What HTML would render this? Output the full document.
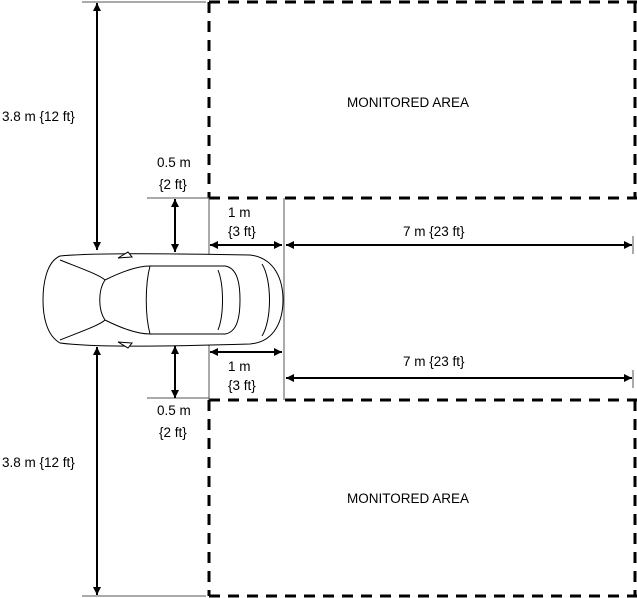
<!DOCTYPE html>
<html><head><style>body{margin:0;background:#fff}svg{display:block}text{font-family:"Liberation Sans",sans-serif;font-size:13.5px;fill:#000}</style></head>
<body>
<svg width="637" height="598" viewBox="0 0 637 598">
<defs>
<marker id="a" viewBox="0 0 10 10" refX="10" refY="5" markerWidth="8" markerHeight="8" orient="auto-start-reverse" markerUnits="userSpaceOnUse"><path d="M0,0L10,5L0,10z"/></marker>
</defs>
<g stroke="#000" stroke-width="3" stroke-dasharray="11,8" fill="none">
<path d="M209,2H637M209,2V198M209,198H637M635,2V198"/>
<path d="M209,400H637M209,400V596M635,400V596M209,596H637"/>
</g>
<g stroke="#555" stroke-width="1" fill="none">
<path d="M82,2H206M82,596H206M147,198H209M147,398H209M284,198V400M209,198V400M633,236V254M633,370V388"/>
</g>
<g stroke="#000" stroke-width="2" fill="none">
<path d="M97,3V250" marker-start="url(#a)" marker-end="url(#a)"/>
<path d="M97,347V595" marker-start="url(#a)" marker-end="url(#a)"/>
<path d="M175,199V252" marker-start="url(#a)" marker-end="url(#a)"/>
<path d="M175,346V398" marker-start="url(#a)" marker-end="url(#a)"/>
<path d="M210,245H282" marker-start="url(#a)" marker-end="url(#a)"/>
<path d="M210,352H282" marker-start="url(#a)" marker-end="url(#a)"/>
<path d="M286,245H632" marker-start="url(#a)" marker-end="url(#a)"/>
<path d="M286,378H632" marker-start="url(#a)" marker-end="url(#a)"/>
</g>
<g stroke="#000" stroke-width="1" fill="#fff">
<path d="M60,256C90,253 150,253 250,255C275,258 283,280 283,300C283,320 275,342 250,344C150,347 90,347 60,343C46,335 43,315 43,300C43,285 46,262 60,256Z"/>
<path d="M105,280C125,270 140,266 150,266H225C238,268 240,285 240,300C240,315 238,332 225,334H150C140,334 125,330 105,320"/>
<path d="M105,280C98,290 98,310 105,320M150,266C145,285 145,315 150,334M218,270C224,285 224,315 218,330M262,264C272,280 272,320 262,336"/>
<path d="M60,260C80,268 100,275 105,280M60,340C80,332 100,325 105,320"/>
<path d="M118,258L128,252L132,257ZM118,342L128,348L132,343Z"/>
</g>
<text x="347" y="107">MONITORED AREA</text>
<text x="347" y="503">MONITORED AREA</text>
<text x="2" y="121">3.8 m {12 ft}</text>
<text x="2" y="467">3.8 m {12 ft}</text>
<text x="157" y="167">0.5 m</text>
<text x="159" y="189">{2 ft}</text>
<text x="157" y="415">0.5 m</text>
<text x="159" y="437">{2 ft}</text>
<text x="228" y="217">1 m</text>
<text x="228" y="236">{3 ft}</text>
<text x="228" y="371">1 m</text>
<text x="228" y="390">{3 ft}</text>
<text x="403" y="236">7 m {23 ft}</text>
<text x="403" y="366">7 m {23 ft}</text>
</svg>
</body></html>
